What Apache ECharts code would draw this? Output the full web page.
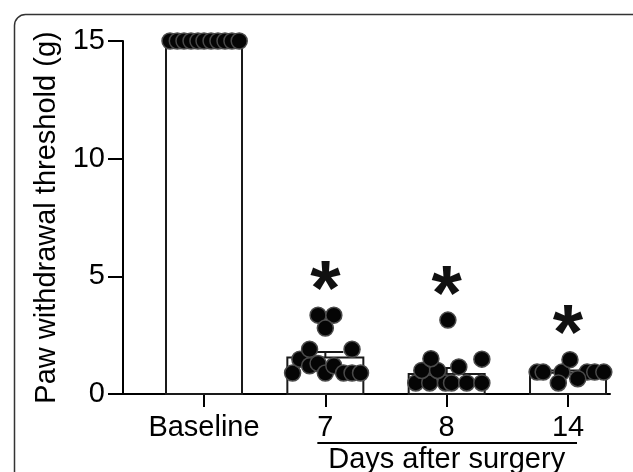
<!DOCTYPE html>
<html>
<head>
<meta charset="utf-8">
<script src="https://cdn.jsdelivr.net/npm/echarts@6/dist/echarts.min.js"></script>
<style>
html,body{margin:0;padding:0;background:#fff;}
#chart{width:633px;height:472px;}
</style>
</head>
<body>
<div id="chart"></div>
<script>
// ---- data ----
const categories = ['Baseline', '7', '8', '14'];
const groupTitle = 'Days after surgery';
const yTitle = 'Paw withdrawal threshold (g)';

// group means and SEM (bar heights / error bars)
const means = [15, 1.55, 0.85, 0.9];
const sems  = [0, 0.23, 0.25, 0.1];

// individual animals: values and horizontal spread (in category units) as plotted
const baselineValues = [15, 15, 15, 15, 15, 15, 15, 15, 15, 15, 15];
const baselineSpread = [-0.28, -0.22, -0.165, -0.107, -0.05, 0, 0.058, 0.115, 0.173, 0.23, 0.29];

const day7Values = [0.89, 1.48, 1.9, 1.2, 1.3, 0.89, 1.2, 0.89, 1.9, 0.89, 0.89, 3.35, 3.35, 2.8];
const day7Spread = [-0.27, -0.21, -0.13, -0.13, -0.06, 0, 0.07, 0.15, 0.22, 0.22, 0.29, -0.06, 0.07, 0];

const day8Values = [0.47, 0.47, 0.47, 0.47, 0.47, 0.47, 1.0, 1.0, 1.5, 1.15, 1.48, 3.14];
const day8Spread = [-0.255, -0.14, -0.01, 0.04, 0.165, 0.29, -0.205, -0.075, -0.13, 0.1, 0.29, 0.01];

const day14Values = [0.93, 0.93, 0.93, 0.93, 0.93, 0.93, 1.46, 0.47, 0.65];
const day14Spread = [-0.255, -0.205, -0.05, 0.157, 0.22, 0.295, 0.016, -0.08, 0.08];

const significant = [false, true, true, true];

// ---- build ----
const groups = [
  [baselineValues, baselineSpread],
  [day7Values, day7Spread],
  [day8Values, day8Spread],
  [day14Values, day14Spread]
];
const pointData = [];
groups.forEach(function (g, i) {
  g[0].forEach(function (v, k) { pointData.push([i + g[1][k], v]); });
});
const barData = means.map(function (m, i) { return [i, m, sems[i]]; });
const starData = [];
groups.forEach(function (g, i) {
  if (significant[i]) starData.push([i, Math.max.apply(null, g[0])]);
});

const FONT = '"Liberation Sans", Arial, Helvetica, sans-serif';
const FS = 29;
const chart = echarts.init(document.getElementById('chart'), null, {renderer: 'canvas'});

const option = {
  animation: false,
  backgroundColor: '#ffffff',
  grid: {left: 123, right: 23, top: 41, bottom: 78, containLabel: false},
  xAxis: {
    type: 'value', min: -0.6676, max: 3.346,
    axisLine: {show: true, onZero: false, lineStyle: {color: '#000', width: 2}},
    axisTick: {show: true, customValues: [0, 1, 2, 3], length: 13, inside: false, lineStyle: {color: '#000', width: 2}},
    axisLabel: {show: true, customValues: [0, 1, 2, 3], margin: 19, color: '#000', fontSize: FS, fontFamily: FONT,
      formatter: function (v) { return categories[Math.round(v)]; }},
    splitLine: {show: false}
  },
  yAxis: {
    type: 'value', min: 0, max: 15, interval: 5,
    name: yTitle, nameLocation: 'middle', nameGap: 62, nameRotate: 90,
    nameTextStyle: {color: '#000', fontSize: FS, fontFamily: FONT},
    axisLine: {show: true, onZero: false, lineStyle: {color: '#000', width: 2}},
    axisTick: {show: true, length: 15, lineStyle: {color: '#000', width: 2}},
    axisLabel: {color: '#000', fontSize: FS, fontFamily: FONT, margin: 18},
    splitLine: {show: false}
  },
  series: [
    {
      type: 'custom', name: 'bars', z: 1, clip: false,
      data: barData,
      renderItem: function (params, api) {
        const top = api.coord([api.value(0), api.value(1)]);
        const bot = api.coord([api.value(0), 0]);
        const w = 76;
        return {type: 'rect', shape: {x: top[0] - w / 2, y: top[1], width: w, height: bot[1] - top[1]},
          style: {fill: '#fff', stroke: '#1a1a1a', lineWidth: 2}};
      }
    },
    {
      type: 'custom', name: 'sem', z: 2, clip: false,
      data: barData,
      renderItem: function (params, api) {
        const i = api.value(0), m = api.value(1), s = api.value(2);
        if (!s) return null;
        const a = api.coord([i, m]);
        const b = api.coord([i, m + s]);
        const cw = 36;
        return {type: 'group', children: [
          {type: 'line', shape: {x1: a[0], y1: a[1], x2: b[0], y2: b[1]}, style: {stroke: '#1a1a1a', lineWidth: 2}},
          {type: 'line', shape: {x1: b[0] - cw / 2, y1: b[1], x2: b[0] + cw / 2, y2: b[1]}, style: {stroke: '#1a1a1a', lineWidth: 2}}
        ]};
      }
    },
    {
      type: 'scatter', name: 'animals', z: 3,
      data: pointData,
      symbol: 'circle', symbolSize: 16,
      itemStyle: {color: '#050505', borderColor: '#4a4a4a', borderWidth: 1.5, opacity: 1}
    },
    {
      type: 'custom', name: 'stars', z: 4, clip: false,
      data: starData,
      renderItem: function (params, api) {
        const p = api.coord([api.value(0), api.value(1)]);
        return {type: 'text', x: p[0], y: p[1] - 22,
          style: {text: '*', fill: '#111', font: 'bold 78px ' + FONT, textAlign: 'center', textVerticalAlign: 'middle'}};
      }
    }
  ]
};
chart.setOption(option);

const x1 = chart.convertToPixel({xAxisIndex: 0}, 1);
const x2 = chart.convertToPixel({xAxisIndex: 0}, 2);
const x3 = chart.convertToPixel({xAxisIndex: 0}, 3);
chart.setOption({
  graphic: [
    {type: 'rect', z: 100, silent: true,
      shape: {x: 14.5, y: 14.5, width: 700, height: 600, r: 11},
      style: {fill: 'none', stroke: '#333', lineWidth: 1.5}},
    {type: 'line', z: 100, silent: true,
      shape: {x1: x1 - 8, y1: 443, x2: x3 + 9, y2: 443},
      style: {stroke: '#000', lineWidth: 2}},
    {type: 'text', z: 100, silent: true, x: x2, y: 445,
      style: {text: groupTitle, fill: '#000', font: FS + 'px ' + FONT, textAlign: 'center', textVerticalAlign: 'top'}}
  ]
});
</script>
</body>
</html>
